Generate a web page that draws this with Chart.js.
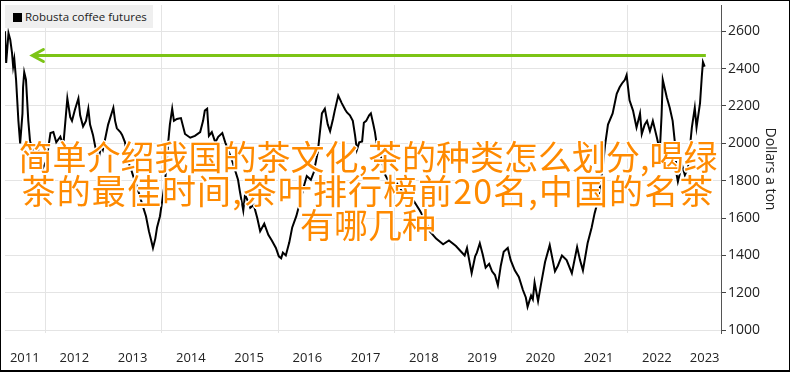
<!DOCTYPE html>
<html>
<head>
<meta charset="utf-8">
<script src="https://cdn.jsdelivr.net/npm/chart.js@4.4.1/dist/chart.umd.min.js"></script>
<style>
    body { margin: 0; background: #fff; }
    #wrap { position: relative; width: 790px; height: 372px; overflow: hidden; }
    #coffeeChart { position: absolute; left: 0; top: 0; }
    #frame { position: absolute; left: 0; top: 0; width: 790px; height: 372px; box-sizing: border-box; border: 1px solid #000; border-bottom-width: 2px; pointer-events: none; }
    #legendBox { position: absolute; left: 5px; top: 5px; height: 23px; padding-right: 6px; background: #efefef; white-space: nowrap; font-family: 'Open Sans', sans-serif; font-size: 11.5px; color: #222; line-height: 23px; }
    #legendBox span.mark { display: inline-block; width: 9px; height: 9px; background: #000; margin: 0 3px 0 8px; vertical-align: -1px; }
    #overlay { position: absolute; left: 0; top: 139px; width: 736px; text-align: center; font-family: 'Noto Sans CJK SC', sans-serif; font-size: 34px; line-height: 34px; color: #ff8a00;
        text-shadow: 1.5px 0 #fff, -1.5px 0 #fff, 0 1.5px #fff, 0 -1.5px #fff, 1px 1px #fff, -1px -1px #fff, 1px -1px #fff, -1px 1px #fff; pointer-events: none; }
    #overlay .wide { letter-spacing: 1.1px; }
</style>
</head>
<body>
<div id="wrap">
    <canvas id="coffeeChart" width="790" height="372"></canvas>
    <div id="legendBox"><span class="mark"></span>Robusta coffee futures</div>
    <div id="overlay">简单介绍我国的茶文化,茶的种类怎么划分,喝绿<br><span class="wide">茶的最佳时间,茶叶排行榜前20名,中国的名茶</span><br>有哪几种</div>
    <div id="frame"></div>
</div>

<script>
// robusta futures, dollars a ton
const dates = [
    2011.31, 2011.33, 2011.37, 2011.40, 2011.43, 2011.45, 2011.47, 2011.50, 2011.52, 2011.54, 2011.57, 2011.59, 2011.61, 2011.62, 2011.64, 2011.67, 2011.69, 2011.71, 2011.74, 2011.78, 2011.83, 2011.88, 2011.95,
    2012.02, 2012.09, 2012.14, 2012.19, 2012.26, 2012.31, 2012.38, 2012.43, 2012.46, 2012.51, 2012.57, 2012.60, 2012.65, 2012.70, 2012.74, 2012.77, 2012.82, 2012.87, 2012.91, 2012.96, 2012.99,
    2013.05, 2013.08, 2013.17, 2013.20, 2013.23, 2013.29, 2013.32, 2013.37, 2013.42, 2013.48, 2013.53, 2013.58, 2013.63, 2013.68, 2013.73, 2013.78, 2013.82, 2013.85, 2013.89, 2013.92, 2013.97,
    2014.01, 2014.06, 2014.11, 2014.14, 2014.18, 2014.21, 2014.26, 2014.33, 2014.40, 2014.49, 2014.57, 2014.66, 2014.71, 2014.74, 2014.78, 2014.81, 2014.86, 2014.92, 2014.97,
    2015.04, 2015.09, 2015.14, 2015.21, 2015.26, 2015.31, 2015.34, 2015.40, 2015.43, 2015.48, 2015.52, 2015.58, 2015.64, 2015.69, 2015.76, 2015.83, 2015.89, 2015.96,
    2016.01, 2016.05, 2016.08, 2016.13, 2016.19, 2016.24, 2016.31, 2016.37, 2016.44, 2016.49, 2016.56, 2016.61, 2016.68, 2016.75, 2016.80, 2016.85, 2016.89, 2016.94, 2016.97,
    2017.03, 2017.09, 2017.15, 2017.18, 2017.23, 2017.28, 2017.32, 2017.35, 2017.39, 2017.44, 2017.47, 2017.51, 2017.56, 2017.59, 2017.63, 2017.66, 2017.69, 2017.76, 2017.83, 2017.88, 2017.95,
    2018.04, 2018.12, 2018.23, 2018.33, 2018.43, 2018.52, 2018.60, 2018.71, 2018.83, 2018.93,
    2019.05, 2019.14, 2019.20, 2019.24, 2019.29, 2019.32, 2019.38, 2019.41, 2019.46, 2019.51, 2019.56, 2019.62, 2019.67, 2019.72, 2019.77, 2019.82, 2019.87, 2019.94, 2019.99,
    2020.06, 2020.13, 2020.20, 2020.25, 2020.28, 2020.34, 2020.37, 2020.40, 2020.46, 2020.51, 2020.58, 2020.66, 2020.75, 2020.80, 2020.87, 2020.95,
    2021.04, 2021.13, 2021.18, 2021.23, 2021.31, 2021.38, 2021.43, 2021.49, 2021.57, 2021.61, 2021.66, 2021.74, 2021.81, 2021.86, 2021.90, 2021.95, 2021.98,
    2022.03, 2022.09, 2022.15, 2022.21, 2022.24, 2022.29, 2022.33, 2022.38, 2022.43, 2022.50, 2022.55, 2022.58, 2022.60, 2022.67, 2022.72, 2022.77, 2022.81, 2022.84, 2022.86, 2022.93, 2022.98,
    2023.03, 2023.10, 2023.15, 2023.18, 2023.24, 2023.27, 2023.29, 2023.32
];
const prices = [
    2600, 2430, 2590, 2555, 2485, 2410, 2450, 2340, 2230, 2120, 2000, 2080, 2160, 2300, 2380, 2340, 2230, 2120, 2010, 1975, 1905, 1965, 1860,
    1905, 2055, 2060, 2005, 2035, 1985, 2240, 2140, 2120, 2180, 2240, 2150, 2090, 2120, 2185, 2100, 2045, 1965, 1905, 1985, 1965,
    2055, 2100, 2190, 2120, 2080, 2060, 2045, 2005, 1905, 1855, 1805, 1765, 1710, 1660, 1610, 1530, 1480, 1440, 1490, 1550, 1610,
    1695, 1805, 2000, 2100, 2185, 2120, 2130, 2135, 2050, 2030, 2040, 2060, 2120, 2175, 2185, 2040, 2060, 2005, 2035,
    2055, 2005, 1965, 1905, 1855, 1805, 1745, 1640, 1725, 1690, 1655, 1670, 1600, 1530, 1570, 1510, 1480, 1440,
    1395, 1385, 1415, 1400, 1470, 1550, 1610, 1680, 1770, 1825, 1805, 1845, 1955, 2160, 2185, 2100, 2065, 2130, 2175,
    2255, 2215, 2180, 2165, 2150, 2120, 2040, 1965, 2005, 2010, 2110, 2120, 2150, 2160, 2105, 2060, 1995, 1935, 1835, 1805, 1770,
    1785, 1745, 1710, 1690, 1640, 1590, 1530, 1490, 1460, 1480,
    1450, 1420, 1400, 1440, 1355, 1305, 1395, 1415, 1465, 1405, 1335, 1355, 1315, 1295, 1240, 1345, 1420, 1440, 1375,
    1320, 1285, 1215, 1175, 1125, 1185, 1165, 1255, 1155, 1245, 1365, 1455, 1315, 1345, 1400, 1375,
    1305, 1445, 1375, 1320, 1465, 1550, 1625, 1695, 1870, 1990, 2100, 2160, 2265, 2300, 2320, 2340, 2365,
    2230, 2175, 2085, 2160, 2050, 2100, 2120, 2065, 2120, 2030, 1960, 2150, 2340, 2245, 2190, 2120, 2000, 1830, 1795, 1885, 1830,
    1865, 2085, 2190, 2085, 2215, 2355, 2435, 2410
];

// green arrow drawn across the chart
const arrowDates = [2011.78, 2023.34];
const arrowLevel = 2470;

// axes
const yearLabels = ['2011', '2012', '2013', '2014', '2015', '2016', '2017', '2018', '2019', '2020', '2021', '2022', '2023'];
const yearLabelPos = [2011.65, 2012.5, 2013.5, 2014.5, 2015.5, 2016.5, 2017.5, 2018.5, 2019.5, 2020.5, 2021.5, 2022.5, 2023.32];
const gridYears = [2012, 2014, 2016, 2018, 2020, 2022];
const priceTicks = [1000, 1200, 1400, 1600, 1800, 2000, 2200, 2400, 2600];


const arrowHead = {
    id: 'arrowHead',
    afterDatasetsDraw: function (chart) {
        const pt = chart.getDatasetMeta(1).data[0];
        if (!pt) return;
        const ctx = chart.ctx;
        ctx.save();
        ctx.strokeStyle = '#7cc416';
        ctx.lineWidth = 3;
        ctx.lineCap = 'round';
        ctx.beginPath();
        ctx.moveTo(pt.x + 11, pt.y - 6);
        ctx.lineTo(pt.x, pt.y);
        ctx.lineTo(pt.x + 11, pt.y + 6);
        ctx.stroke();
        ctx.restore();
    }
};

function LoadCoffeeChart() {
    const ctx = document.getElementById('coffeeChart').getContext('2d');

    new Chart(ctx, {
        type: 'line',
        data: {
            datasets: [{
                label: 'Robusta coffee futures',
                data: dates.map(function (d, i) { return { x: d, y: prices[i] }; }),
                borderColor: '#000',
                borderWidth: 2,
                pointRadius: 0,
                tension: 0
            }, {
                label: 'arrow',
                data: arrowDates.map(function (d) { return { x: d, y: arrowLevel }; }),
                borderColor: '#7cc416',
                borderWidth: 3,
                pointRadius: 0
            }]
        },
        options: {
            responsive: false,
            animation: false,
            devicePixelRatio: 1,
            layout: { padding: { top: 5, left: 5 } },
            plugins: {
                legend: { display: false },
                tooltip: { enabled: false }
            },
            scales: {
                x: {
                    type: 'linear',
                    min: 2011.31,
                    max: 2023.6,
                    afterBuildTicks: function (scale) {
                        const vals = gridYears.concat(yearLabelPos).sort(function (a, b) { return a - b; });
                        scale.ticks = vals.map(function (v) { return { value: v }; });
                    },
                    afterFit: function (scale) {
                        scale.height = 39;
                        scale.paddingLeft = 0;
                        scale.paddingRight = 0;
                    },
                    border: { display: false },
                    grid: {
                        drawTicks: true,
                        tickLength: 16,
                        tickColor: 'rgba(0,0,0,0)',
                        color: function (c) {
                            return c.tick && gridYears.indexOf(c.tick.value) >= 0 ? '#e4e4e4' : 'rgba(0,0,0,0)';
                        }
                    },
                    ticks: {
                        autoSkip: false,
                        maxRotation: 0,
                        padding: 1,
                        color: '#222',
                        font: { family: 'Open Sans', size: 13 },
                        callback: function (value) {
                            const i = yearLabelPos.indexOf(value);
                            return i >= 0 ? yearLabels[i] : '';
                        }
                    }
                },
                y: {
                    position: 'right',
                    min: 985,
                    max: 2740,
                    afterBuildTicks: function (scale) {
                        scale.ticks = priceTicks.map(function (v) { return { value: v }; });
                    },
                    afterFit: function (scale) {
                        scale.width = 69;
                        scale.paddingTop = 0;
                        scale.paddingBottom = 0;
                    },
                    border: { display: true, color: '#555', width: 1 },
                    grid: { color: '#e4e4e4', tickColor: '#444', tickLength: 5 },
                    ticks: {
                        padding: 2,
                        color: '#222',
                        font: { family: 'Open Sans', size: 14 },
                        callback: function (value) { return String(value); }
                    },
                    title: {
                        display: true,
                        text: 'Dollars a ton',
                        color: '#222',
                        font: { family: 'Open Sans', size: 14 },
                        padding: { top: 12, bottom: 0 }
                    }
                }
            }
        },
        plugins: [arrowHead]
    });
}

window.addEventListener('load', LoadCoffeeChart);
</script>
</body>
</html>
